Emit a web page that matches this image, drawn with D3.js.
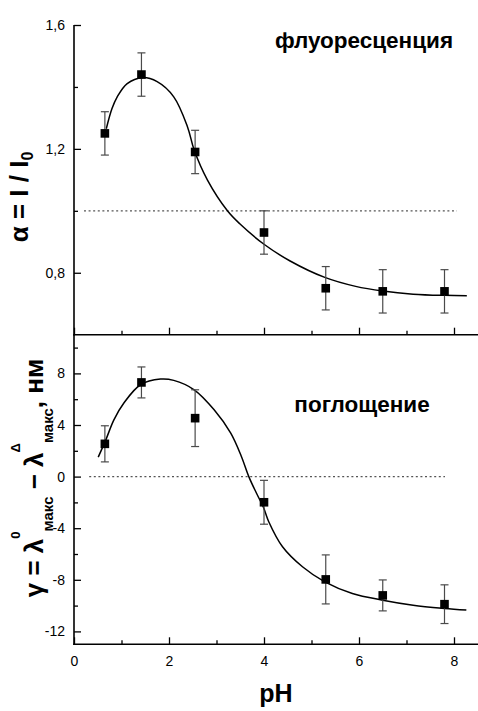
<!DOCTYPE html>
<html>
<head>
<meta charset="utf-8">
<script src="https://cdn.jsdelivr.net/npm/d3@7"></script>
<style>
  html, body { margin: 0; padding: 0; background: #fff; }
  svg { display: block; }
  text { font-family: "Liberation Sans", Arial, sans-serif; fill: #000; }
</style>
</head>
<body>
<svg id="chart" width="478" height="711"></svg>
<script>
// ---- data ----
const phValues      = [0.65, 1.42, 2.55, 4.0, 5.3, 6.5, 7.8];
const fluorValues   = [1.25, 1.44, 1.19, 0.93, 0.75, 0.74, 0.74];
const fluorErrors   = [0.07, 0.07, 0.07, 0.07, 0.07, 0.07, 0.07];
const absorbValues  = [2.54, 7.30, 4.53, -1.99, -7.97, -9.21, -9.89];
const absorbErrors  = [1.4, 1.2, 2.2, 1.7, 1.9, 1.2, 1.5];

// fitted curves, points
const fluorFitX  = [0.68, 0.80, 0.91, 1.12, 1.44, 1.75, 2.10, 2.39, 2.53, 2.81, 3.23, 3.49, 4.00, 4.55, 5.28, 5.93, 6.50, 7.14, 7.80, 8.27];
const fluorFitY  = [1.265, 1.33, 1.368, 1.411, 1.430, 1.417, 1.368, 1.271, 1.196, 1.099, 1.00, 0.958, 0.892, 0.838, 0.785, 0.756, 0.741, 0.731, 0.727, 0.726];
const absorbFitX = [0.51, 0.67, 0.84, 1.05, 1.40, 1.82, 2.10, 2.53, 2.95, 3.30, 3.52, 3.68, 3.85, 3.99, 4.10, 4.39, 4.81, 5.28, 5.86, 6.50, 7.14, 7.80, 8.26];
const absorbFitY = [1.51, 2.85, 4.40, 5.70, 7.12, 7.56, 7.46, 6.73, 5.18, 3.37, 1.60, 0.0, -1.35, -2.40, -3.50, -5.44, -6.99, -8.16, -9.06, -9.58, -9.97, -10.22, -10.35];

// reference (dotted) lines: [x0, x1], level
const fluorRefX  = [0.21, 8.06];
const fluorRefY  = 1.0;
const absorbRefX = [0.32, 7.81];
const absorbRefY = 0;

// axes ticks
const xMajorTicks     = [0, 2, 4, 6, 8];
const xMinorTicks     = [1, 3, 5, 7];
const fluorMajorTicks = [0.8, 1.2, 1.6];
const fluorMinorTicks = [1.0, 1.4];
const absorbMajorTicks = [-12, -8, -4, 0, 4, 8];
const absorbMinorTicks = [-10, -6, -2, 2, 6, 10];

const fluorTitle  = "флуоресценция";
const absorbTitle = "поглощение";
const xTitle      = "pH";

// ---- layout ----
const svg = d3.select("#chart");
const x = d3.scaleLinear().domain([0, 8]).range([74, 454]);
const yTop = d3.scaleLinear().domain([0.6, 1.6]).range([334.7, 25]);
const yBot = d3.scaleLinear().domain([-13, 11]).range([644.3, 334.7]);
const xEnd = 8.6;
const fmtComma = d => d3.format(".1f")(d).replace(".", ",");
const fmtInt = d => String(d);

function panel(y, majors, minors, fmt, showXLabels) {
  const g = svg.append("g");
  const y0 = y.range()[0];
  // left axis
  const ax = d3.axisLeft(y).tickValues(majors).tickSizeInner(-7).tickSizeOuter(0)
    .tickPadding(9).tickFormat(fmt);
  const gy = g.append("g").attr("transform", "translate(74,0)").call(ax);
  gy.select(".domain").remove();
  gy.selectAll("line").attr("stroke", "#000").attr("stroke-width", 1.3);
  gy.selectAll("text").style("font-size", "14px").attr("fill", "#000");
  const axm = d3.axisLeft(y).tickValues(minors).tickSizeInner(-4).tickSizeOuter(0).tickFormat("");
  const gym = g.append("g").attr("transform", "translate(74,0)").call(axm);
  gym.select(".domain").remove();
  gym.selectAll("line").attr("stroke", "#000").attr("stroke-width", 1.3);
  g.append("line").attr("x1", 74).attr("x2", 74)
    .attr("y1", y.range()[1]).attr("y2", y0 + 0.75)
    .attr("stroke", "#000").attr("stroke-width", 1.6);

  // bottom axis
  const bx = d3.axisBottom(x).tickValues(xMajorTicks).tickSizeInner(-7).tickSizeOuter(0)
    .tickPadding(12).tickFormat(showXLabels ? fmtInt : "");
  const gx = g.append("g").attr("transform", `translate(0,${y0})`).call(bx);
  gx.select(".domain").remove();
  gx.selectAll("line").attr("stroke", "#000").attr("stroke-width", 1.3);
  gx.selectAll("text").style("font-size", "14px").attr("fill", "#000");
  const bxm = d3.axisBottom(x).tickValues(xMinorTicks).tickSizeInner(-4).tickSizeOuter(0).tickFormat("");
  const gxm = g.append("g").attr("transform", `translate(0,${y0})`).call(bxm);
  gxm.select(".domain").remove();
  gxm.selectAll("line").attr("stroke", "#000").attr("stroke-width", 1.3);
  g.append("line").attr("x1", 73.2).attr("x2", x(xEnd))
    .attr("y1", y0).attr("y2", y0).attr("stroke", "#000").attr("stroke-width", 1.6);
  return g;
}

function series(g, y, vals, errs, fitX, fitY, refX, refY) {
  // dotted reference line
  g.append("line")
    .attr("x1", x(refX[0])).attr("x2", x(refX[1]))
    .attr("y1", y(refY)).attr("y2", y(refY))
    .attr("stroke", "#555").attr("stroke-width", 1.2).attr("stroke-dasharray", "2,2.6");
  // fit curve
  const line = d3.line().x(d => x(d[0])).y(d => y(d[1])).curve(d3.curveCatmullRom.alpha(0.5));
  g.append("path").datum(fitX.map((v, i) => [v, fitY[i]]))
    .attr("d", line).attr("fill", "none").attr("stroke", "#000").attr("stroke-width", 1.5);
  // error bars
  const pts = phValues.map((p, i) => ({ p, v: vals[i], e: errs[i] }));
  const eb = g.append("g").attr("stroke", "#4a4a4a").attr("stroke-width", 1.2);
  pts.forEach(d => {
    eb.append("line").attr("x1", x(d.p)).attr("x2", x(d.p)).attr("y1", y(d.v + d.e)).attr("y2", y(d.v - d.e));
    eb.append("line").attr("x1", x(d.p) - 4).attr("x2", x(d.p) + 4).attr("y1", y(d.v + d.e)).attr("y2", y(d.v + d.e));
    eb.append("line").attr("x1", x(d.p) - 4).attr("x2", x(d.p) + 4).attr("y1", y(d.v - d.e)).attr("y2", y(d.v - d.e));
  });
  // markers
  g.append("g").selectAll("rect").data(pts).join("rect")
    .attr("x", d => x(d.p) - 4.3).attr("y", d => y(d.v) - 4.3)
    .attr("width", 8.6).attr("height", 8.6).attr("fill", "#000");
}

const gTop = panel(yTop, fluorMajorTicks, fluorMinorTicks, fmtComma, false);
series(gTop, yTop, fluorValues, fluorErrors, fluorFitX, fluorFitY, fluorRefX, fluorRefY);
const gBot = panel(yBot, absorbMajorTicks, absorbMinorTicks, fmtInt, true);
series(gBot, yBot, absorbValues, absorbErrors, absorbFitX, absorbFitY, absorbRefX, absorbRefY);

// titles inside panels
svg.append("text").attr("x", 364).attr("y", 47.5).attr("text-anchor", "middle")
  .style("font-size", "22.5px").style("font-weight", "bold").text(fluorTitle);
svg.append("text").attr("x", 362).attr("y", 412).attr("text-anchor", "middle")
  .style("font-size", "22.5px").style("font-weight", "bold").text(absorbTitle);

// x title
svg.append("text").attr("x", 276).attr("y", 702).attr("text-anchor", "middle")
  .style("font-size", "25px").style("font-weight", "bold").text(xTitle);

// y title (top)
const t1 = svg.append("text").attr("transform", "translate(28,197) rotate(-90)")
  .attr("text-anchor", "middle").style("font-size", "26px").style("font-weight", "bold");
t1.append("tspan").text("α = I / I");
t1.append("tspan").attr("dy", 5).style("font-size", "16px").text("0");

// y title (bottom)
const t2 = svg.append("text").attr("transform", "translate(43,478) rotate(-90)")
  .attr("text-anchor", "middle").style("font-size", "26px").style("font-weight", "bold");
t2.append("tspan").text("γ = λ");
t2.append("tspan").attr("dy", -23).style("font-size", "13px").text("0");
t2.append("tspan").attr("dy", 33).style("font-size", "15px").text("макс");
t2.append("tspan").attr("dy", -10).text(" − λ");
t2.append("tspan").attr("dy", -23).style("font-size", "13px").text("Δ");
t2.append("tspan").attr("dy", 33).style("font-size", "15px").text("макс");
t2.append("tspan").attr("dy", -10).text(", нм");
</script>
</body>
</html>
